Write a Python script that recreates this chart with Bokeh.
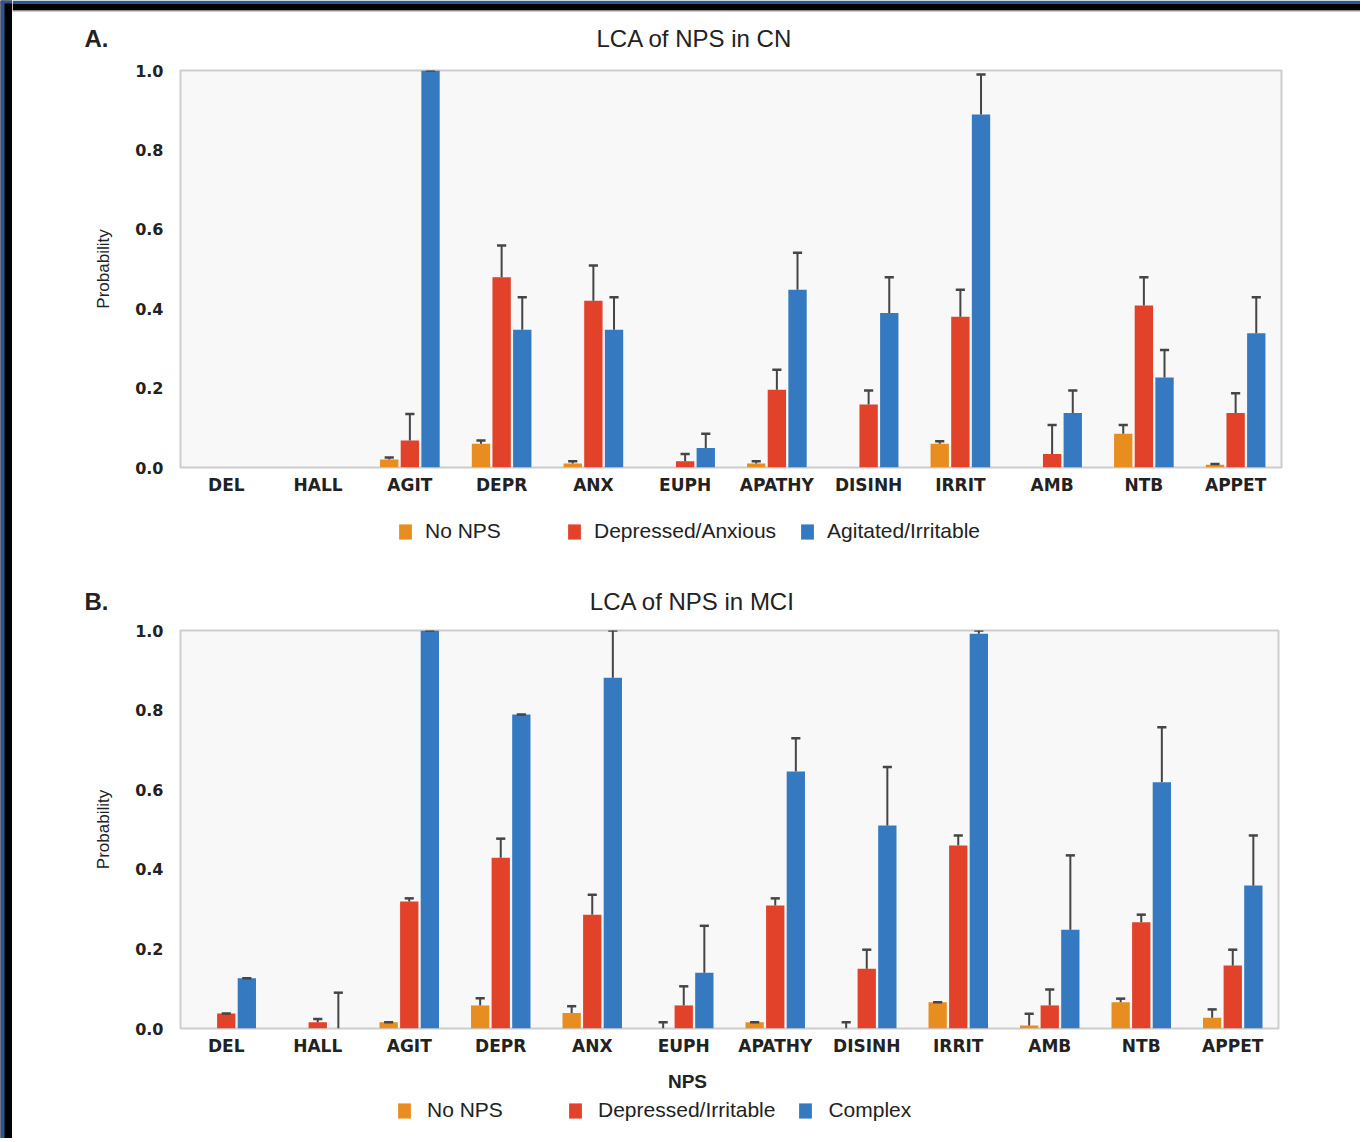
from bokeh.plotting import figure
from bokeh.models import (ColumnDataSource, FactorRange, Range1d, Label, Legend,
                          LegendItem, FixedTicker, PrintfTickFormatter, BoxAnnotation)
from bokeh.transform import dodge
from bokeh.layouts import column, row
from bokeh.embed import file_html
from bokeh.resources import INLINE

categories = ["DEL", "HALL", "AGIT", "DEPR", "ANX", "EUPH", "APATHY",
              "DISINH", "IRRIT", "AMB", "NTB", "APPET"]
y_ticks = [0.0, 0.2, 0.4, 0.6, 0.8, 1.0]

# Panel A: LCA of NPS in CN
names_A = ["No NPS", "Depressed/Anxious", "Agitated/Irritable"]
A_no_nps = [0, 0, 0.02, 0.06, 0.01, 0, 0.01, 0, 0.06, 0, 0.085, 0.007]
A_no_nps_err = [None, None, 0.025, 0.068, 0.016, None, 0.016, None, 0.066, None, 0.107, 0.009]
A_dep_anx = [0, 0, 0.068, 0.479, 0.42, 0.016, 0.196, 0.159, 0.38, 0.034, 0.408, 0.137]
A_dep_anx_err = [None, None, 0.135, 0.559, 0.509, 0.034, 0.246, 0.194, 0.448, 0.107, 0.479, 0.187]
A_agit_irr = [0, 0, 1.0, 0.347, 0.347, 0.049, 0.448, 0.389, 0.889, 0.137, 0.227, 0.338]
A_agit_irr_err = [None, None, 1.0, 0.429, 0.429, 0.085, 0.541, 0.479, 0.99, 0.194, 0.296, 0.429]

# Panel B: LCA of NPS in MCI
names_B = ["No NPS", "Depressed/Irritable", "Complex"]
B_no_nps = [0, 0, 0.016, 0.058, 0.039, 0, 0.016, 0, 0.066, 0.0075, 0.066, 0.027]
B_no_nps_err = [None, None, 0.016, 0.076, 0.056, 0.016, 0.016, 0.016, 0.066, 0.037, 0.075, 0.048]
B_dep_irr = [0.038, 0.016, 0.319, 0.429, 0.286, 0.058, 0.309, 0.15, 0.46, 0.058, 0.267, 0.158]
B_dep_irr_err = [0.038, 0.024, 0.327, 0.477, 0.336, 0.106, 0.327, 0.198, 0.485, 0.098, 0.286, 0.198]
B_complex = [0.126, 0, 1.0, 0.789, 0.881, 0.14, 0.646, 0.51, 0.992, 0.248, 0.619, 0.359]
B_complex_err = [0.126, 0.09, 1.0, 0.789, 1.0, 0.258, 0.729, 0.657, 1.0, 0.435, 0.757, 0.485]

COLORS = ["#E88E20", "#E2412A", "#3579C1"]
OFFSETS = [-0.225, 0.0, 0.225]
ERR_COLOR = "#454545"
TXT = "#222222"
BLUE_EDGE = "#2d5593"
W = 1348          # width of the main column
EDGE_W = 12       # width of the decorative left band
TOTAL_H = 1138


def blank(width, height, bg="white"):
    f = figure(width=width, height=height, output_backend="svg", toolbar_location=None,
               x_axis_location=None, y_axis_location=None, min_border=0,
               x_range=Range1d(0, 1), y_range=Range1d(0, 1), frame_align=False)
    f.outline_line_color = None
    f.background_fill_color = bg
    f.border_fill_color = bg
    f.xgrid.grid_line_color = None
    f.ygrid.grid_line_color = None
    return f


def sbox(f, left, right, bottom, top, color):
    f.add_layout(BoxAnnotation(left=left, right=right, bottom=bottom, top=top,
                               left_units="screen", right_units="screen",
                               bottom_units="screen", top_units="screen",
                               fill_color=color, fill_alpha=1, line_color=None))


def text_label(f, x, y, text, size, bold=False):
    f.add_layout(Label(x=x, y=y, x_units="screen", y_units="screen", text=text,
                       text_font="Liberation Sans",
                       text_font_style="bold" if bold else "normal",
                       text_font_size=size, text_align="center", text_baseline="middle",
                       text_color=TXT))


def header(height, tag, title, title_x, y, band=False):
    h = blank(W, height)
    if band:
        sbox(h, 0, W, height - 3, height, BLUE_EDGE)
        sbox(h, 0, W, height - 10, height - 3, "#000000")
        sbox(h, 0, W, height - 11, height - 10, "#9a9a9a")
    text_label(h, 84, y, tag, "24px", bold=True)
    text_label(h, title_x, y, title, "24px")
    return h


def footer(height, names, series, legend_x, legend_y, standoff, spacing,
           xlabel=None, xlabel_y=None):
    f = blank(W, height)
    # hidden copies of the series bars: they only supply the legend swatches
    swatches = [f.vbar(x=list(range(len(categories))), top=vals, width=0.2,
                       fill_color=c, line_color=None, visible=False)
                for vals, c in zip(series, COLORS)]
    leg = Legend(items=[LegendItem(label=n, renderers=[r]) for n, r in zip(names, swatches)],
                 location=(legend_x, legend_y), orientation="horizontal", padding=0,
                 margin=0, border_line_color=None, background_fill_alpha=0,
                 inactive_fill_alpha=0, click_policy="none",
                 glyph_width=16, glyph_height=19, label_standoff=standoff, label_width=118,
                 spacing=spacing, label_text_font="Liberation Sans",
                 label_text_font_size="21px", label_text_color=TXT)
    f.add_layout(leg)
    if xlabel:
        text_label(f, 675, xlabel_y, xlabel, "19px", bold=True)
    return f


def make_panel(series, errors, height, top, frame_w, frame_h):
    p = figure(width=W, height=height, x_range=FactorRange(factors=categories),
               y_range=Range1d(0, 1), output_backend="svg", toolbar_location=None,
               min_border_left=168, min_border_right=W - 168 - frame_w,
               min_border_top=top, min_border_bottom=height - top - frame_h,
               frame_align=False)
    p.background_fill_color = "#f8f8f8"
    p.border_fill_color = "white"
    p.outline_line_color = "#cdcdcd"
    p.outline_line_width = 2
    p.xgrid.grid_line_color = None
    p.ygrid.grid_line_color = None

    for ax in (p.xaxis, p.yaxis):
        ax.axis_line_color = None
        ax.major_tick_line_color = None
        ax.minor_tick_line_color = None
        ax.major_tick_out = 0
        ax.major_tick_in = 0
        ax.minor_tick_out = 0
        ax.major_label_text_font = "DejaVu Sans"
        ax.major_label_text_font_style = "bold"
        ax.major_label_text_color = TXT
    p.xaxis.major_label_text_font_size = "17px"
    p.yaxis.major_label_text_font_size = "16px"
    p.xaxis.major_label_standoff = 7
    p.yaxis.major_label_standoff = 17
    p.yaxis.ticker = FixedTicker(ticks=y_ticks)
    p.yaxis.formatter = PrintfTickFormatter(format="%.1f")
    p.yaxis.axis_label = "Probability"
    p.yaxis.axis_label_text_font = "Liberation Sans"
    p.yaxis.axis_label_text_font_style = "normal"
    p.yaxis.axis_label_text_font_size = "17px"
    p.yaxis.axis_label_text_color = TXT
    p.yaxis.axis_label_standoff = 19

    for vals, errs, col, off in zip(series, errors, COLORS, OFFSETS):
        src = ColumnDataSource(dict(cat=categories, val=vals))
        p.vbar(x=dodge("cat", off, range=p.x_range), top="val", width=0.2,
               source=src, fill_color=col, line_color=None)
        ec = [c for c, e in zip(categories, errs) if e is not None]
        lo = [v for v, e in zip(vals, errs) if e is not None]
        hi = [e for e in errs if e is not None]
        esrc = ColumnDataSource(dict(cat=ec, lo=lo, hi=hi))
        p.segment(x0=dodge("cat", off, range=p.x_range), x1=dodge("cat", off, range=p.x_range),
                  y0="lo", y1="hi", source=esrc, line_color=ERR_COLOR, line_width=2)
        p.segment(x0=dodge("cat", off - 0.05, range=p.x_range),
                  x1=dodge("cat", off + 0.05, range=p.x_range),
                  y0="hi", y1="hi", source=esrc, line_color=ERR_COLOR, line_width=2.5)
    return p


series_A = [A_no_nps, A_dep_anx, A_agit_irr]
series_B = [B_no_nps, B_dep_irr, B_complex]

headA = header(56, "A.", "LCA of NPS in CN", 682, 18, band=True)
pA = make_panel(series_A, [A_no_nps_err, A_dep_anx_err, A_agit_irr_err],
                height=449, top=14, frame_w=1101, frame_h=397)
footA = footer(60, names_A, series_A, legend_x=385, legend_y=22, standoff=12, spacing=23)
headB = header(53, "B.", "LCA of NPS in MCI", 680, 17)
pB = make_panel(series_B, [B_no_nps_err, B_dep_irr_err, B_complex_err],
                height=446, top=12, frame_w=1098, frame_h=398)
footB = footer(74, names_B, series_B, legend_x=384, legend_y=16, standoff=15, spacing=22,
               xlabel="NPS", xlabel_y=57)

edge = blank(EDGE_W, TOTAL_H, bg="#000000")
sbox(edge, 0, 4, 0, TOTAL_H, BLUE_EDGE)
sbox(edge, 0, EDGE_W, TOTAL_H - 3, TOTAL_H, BLUE_EDGE)

layout = row(edge, column(headA, pA, footA, headB, pB, footB, spacing=0), spacing=0)
open("out.html", "w").write(file_html(layout, INLINE))
